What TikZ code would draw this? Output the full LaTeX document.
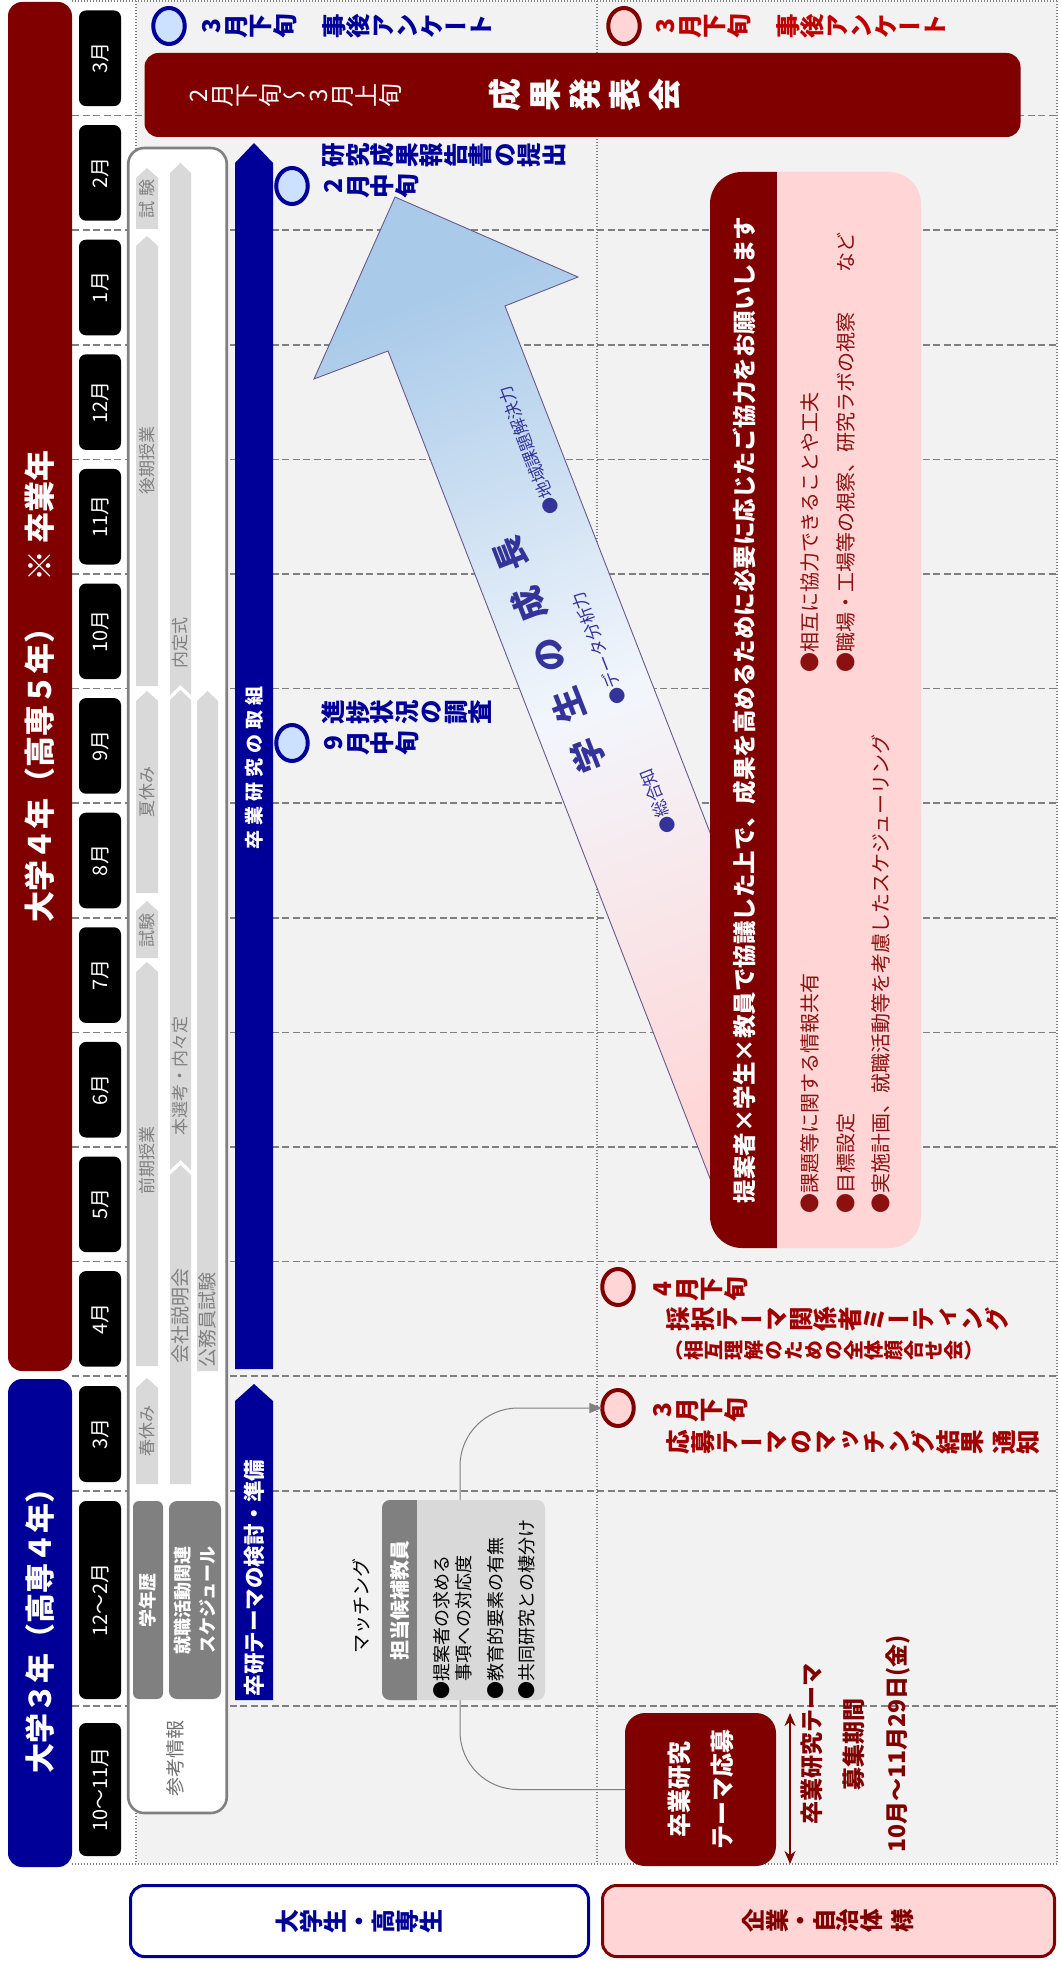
\documentclass[tikz,border=0pt]{standalone}
\usepackage{graphicx}
\usepackage{fontspec}
\setmainfont{Noto Sans CJK JP}
\newfontfamily\vjp{Noto Sans CJK JP}[RawFeature=+vert]
\usetikzlibrary{arrows.meta,shapes.geometric}
\definecolor{dred}{HTML}{800000}
\definecolor{navy}{HTML}{000099}
\definecolor{bggray}{HTML}{F2F2F2}
\definecolor{midgray}{HTML}{808080}
\definecolor{lgray}{HTML}{D9D9D9}
\definecolor{pinkf}{HTML}{FFD5D5}
\definecolor{lblue}{HTML}{CCE0FF}
\definecolor{grow}{HTML}{333399}
\definecolor{txtred}{HTML}{A00000}
\definecolor{brred}{HTML}{C00000}
\definecolor{ptxt}{HTML}{8B1010}
\definecolor{gtop}{HTML}{A9CAE9}
\definecolor{gmid}{HTML}{F2F6FC}
\definecolor{gbot}{HTML}{FFD6D6}
\definecolor{gline}{HTML}{695A8C}
\definecolor{reftxt}{HTML}{6E6E6E}
\newcommand{\fsz}[2]{\fontsize{#1pt}{#2pt}\selectfont}
% vertical (tategaki) text seen from the rotated page: each glyph turned 90 degrees
\newcommand{\vtchar}[1]{\rotatebox{90}{\makebox[1em][c]{\raisebox{0pt}[0.88em][0.12em]{#1}}}}
\let\vtend\relax
\def\vtloop#1{\ifx#1\vtend\else\vtchar{#1}\expandafter\vtloop\fi}
\newcommand{\vt}[1]{{\vjp\vtloop#1\vtend}}
\newcommand{\chev}[4]{\fill[lgray] (#1,#4) -- (#1,#3+10) -- ({(#1+#2)/2},#3) -- (#2,#3+10) -- (#2,#4) -- cycle;}
\newcommand{\chevn}[4]{\fill[lgray] (#1,#4) -- (#1,#3+10) -- ({(#1+#2)/2},#3) -- (#2,#3+10) -- (#2,#4) -- ({(#1+#2)/2},#4-10) -- cycle;}
\begin{document}
\begin{tikzpicture}[x=1pt,y=-1pt,
  every node/.style={inner sep=0pt,outer sep=0pt},
  dashln/.style={draw=midgray,line width=1.5pt,dash pattern=on 7pt off 3.5pt},
  dotln/.style={draw=midgray,line width=1.1pt,dash pattern=on 1.4pt off 1.6pt},
  monthbox/.style={fill=black,rounded corners=7pt,minimum height=42pt,rotate=90,text=white,font=\fsz{20}{24}},
  chevtxt/.style={rotate=90,text=midgray,font=\fsz{17}{20}},
  vlabel/.style={anchor=west,font=\fsz{24.5}{31}\bfseries},
  marker/.style={ellipse,line width=4pt,minimum width=31.5pt,minimum height=36pt},
  bmark/.style={marker,draw=navy,fill=lblue},
  rmark/.style={marker,draw=dred,fill=pinkf},
  conn/.style={draw=midgray,line width=1pt,rounded corners=58pt,-{Triangle[length=13pt,width=10pt]}}]
\useasboundingbox (0,0) rectangle (1060,1961);
% background and grid
\fill[bggray] (136,1) rectangle (1057,1864);
\foreach \yy in {115.6,230.2,344.8,459.4,574,688.6,803.2,917.8,1032.4,1147,1261.6,1376.2,1491,1706}
  \draw[dashln] (72,\yy) -- (1057,\yy);
\draw[dotln] (72,1) -- (1057,1);
\draw[dotln] (72,1864) -- (1057,1864);
\draw[dotln] (136,1) -- (136,1864);
\draw[dotln] (597,1) -- (597,1864);
\draw[dotln] (1057,1) -- (1057,1864);
% year bars
\node[fill=dred,rounded corners=14pt,minimum width=1369pt,minimum height=64pt,rotate=90,text=white,font=\fsz{31}{36}\bfseries] (yr4) at (40,686.5) {大学４年（高専５年）　※ 卒業年};
\node[fill=navy,rounded corners=14pt,minimum width=488pt,minimum height=64pt,rotate=90,text=white,font=\fsz{30}{36}\bfseries] (yr3) at (40,1623) {大学３年（高専４年）};
% months
\foreach \lbl [count=\i from 0] in {3月,2月,1月,12月,11月,10月,9月,8月,7月,6月,5月,4月}
  \node[monthbox,minimum width=95.6pt] (m\i) at (100,{58.3+114.6*\i}) {\lbl};
\node[monthbox,minimum width=96pt] (m12) at (100,1434) {3月};
\node[monthbox,minimum width=198pt] (m13) at (100,1600) {12～2月};
\node[monthbox,minimum width=133pt] (m14) at (100,1789.5) {10～11月};
% reference box
\node[draw=midgray,line width=2.6pt,fill=white,rounded corners=16pt,minimum width=98.5pt,minimum height=1665pt] (ref) at (177.5,980.5) {};
\chev{136}{158}{168}{229}
\chev{136}{158}{236}{686}
\chev{136}{158}{691}{893}
\chev{136}{158}{901}{958}
\chev{136}{158}{962}{1366}
\chev{136}{158}{1378}{1484}
\chevn{170}{191}{163}{695}
\chevn{170}{191}{690}{1170}
\chev{170}{191}{1165}{1484}
\chev{197}{218}{691}{1371}
\node[chevtxt] (k1) at (147,199) {試\hspace{5pt}験};
\node[chevtxt] (k2) at (147,460) {後期授業};
\node[chevtxt] (k3) at (147,792) {夏休み};
\node[chevtxt] (k4) at (147,930) {試験};
\node[chevtxt] (k5) at (147,1160) {前期授業};
\node[chevtxt] (k6) at (147,1431) {春休み};
\node[chevtxt,anchor=west] (k7) at (180.5,668) {内定式};
\node[chevtxt,anchor=west] (k8) at (180.5,1135) {本選考・内々定};
\node[chevtxt,anchor=west,font=\fsz{19}{22}] (k9) at (180.5,1363) {会社説明会};
\node[chevtxt,anchor=west,font=\fsz{19}{22}] (k10) at (207.5,1367) {公務員試験};
\node[fill=midgray,rounded corners=6pt,minimum width=30pt,minimum height=198pt] (gk) at (148,1600) {};
\node[rotate=90,text=white,font=\fsz{18}{22}\bfseries] (gkt) at (gk) {学年歴};
\node[fill=midgray,rounded corners=8pt,minimum width=52pt,minimum height=198pt] (sk) at (195,1600) {};
\node[rotate=90,text=white,align=center,font=\fsz{18}{24.5}\bfseries] (skt) at (sk) {就職活動関連\\スケジュール};
\node[rotate=90,text=reftxt,font=\fsz{19}{22}] (refl) at (175,1758) {参考情報};
% blue arrows
\fill[navy] (235,1369) -- (235,163) -- (254,143) -- (273,163) -- (273,1369) -- cycle;
\node[rotate=90,text=white,font=\fsz{19}{22}\bfseries] (sotsu) at (254,768) {卒\hspace{5pt}業\hspace{5pt}研\hspace{5pt}究\hspace{5pt}の\hspace{5pt}取\hspace{5pt}組};
\fill[navy] (235,1700) -- (235,1401) -- (254,1384) -- (273,1401) -- (273,1700) -- cycle;
\node[rotate=90,anchor=west,text=white,font=\fsz{21.5}{24}\bfseries] (junbi) at (254.5,1696) {卒研テーマの検討・準備};
% growth arrow
\shadedraw[draw=gline,line width=0.9pt,top color=gtop,bottom color=gbot,middle color=gmid,shading angle=21.3]
  (395,197) -- (578,277) -- (505,306) -- (843,1174) -- (726,1219.5) -- (388,351) -- (314,379) -- cycle;
\node[rotate=111.3,text=grow,font=\fsz{34}{40}\bfseries] (seicho) at (549,655) {学\hspace{20pt}生\hspace{20pt}の\hspace{20pt}成\hspace{20pt}長};
\node[rotate=111.3,anchor=west,text=grow,font=\fsz{17}{20}] (g1) at (670,833) {●総合知};
\node[rotate=111.3,anchor=west,text=grow,font=\fsz{17}{20}] (g2) at (620.3,703.4) {●データ分析力};
\node[rotate=111.3,anchor=west,text=grow,font=\fsz{17}{20}] (g3) at (553.3,513.9) {●地域課題解決力};
% pink box
\node[fill=pinkf,rounded corners=32pt,minimum width=211pt,minimum height=1076pt] (pbox) at (815.5,710) {};
\begin{scope}
\clip[rounded corners=32pt] (710,172) rectangle (921,1248);
\fill[dred] (700,160) rectangle (777,1260);
\end{scope}
\node[rotate=90,text=white,font=\fsz{23.5}{28}\bfseries] (ptitle) at (744,710) {提案者×学生×教員で協議した上で、成果を高めるために必要に応じたご協力をお願いします};
\node[rotate=90,anchor=west,align=left,text=ptxt,font=\fsz{20}{35.5}] (pl) at (845.5,1213) {●課題等に関する情報共有\\●目標設定\\●実施計画、就職活動等を考慮したスケジューリング};
\node[rotate=90,anchor=west,align=left,text=ptxt,font=\fsz{20}{35.5}] (pr) at (828,672) {●相互に協力できることや工夫\\●職場・工場等の視察、研究ラボの視察　　など};
% presentation bar
\node[fill=dred,rounded corners=14pt,minimum width=876pt,minimum height=84pt] (seika) at (582.5,95) {};
\node[anchor=west,text=white,font=\fsz{24}{28}] (seikad) at (186,96) {\vt{2月下旬～3月上旬}};
\node[text=white,font=\fsz{33}{40}\bfseries] (seikat) at (584.5,95) {\vt{成}\hspace{7pt}\vt{果}\hspace{7pt}\vt{発}\hspace{7pt}\vt{表}\hspace{7pt}\vt{会}};
% markers
\node[bmark] (c1) at (169,26) {};
\node[vlabel,text=navy] (t1) at (199,26) {\vt{3月下旬　事後アンケート}};
\node[rmark] (c2) at (624,26) {};
\node[vlabel,text=brred] (t2) at (653,26) {\vt{3月下旬　事後アンケート}};
\node[bmark] (c3) at (292,186) {};
\node[vlabel,text=navy,align=left] (t3) at (321,171) {\vt{研究成果報告書の提出}\\\vt{2月中旬}};
\node[bmark] (c4) at (292,743) {};
\node[vlabel,text=navy,align=left] (t4) at (321,728) {\vt{進捗状況の調査}\\\vt{9月中旬}};
\node[rmark] (c5) at (618,1287) {};
\node[vlabel,text=txtred] (t5a) at (650,1289) {\vt{4月下旬}};
\node[vlabel,text=txtred] (t5b) at (666,1319) {\vt{採択テーマ関係者ミーティング}};
\node[vlabel,text=txtred,font=\fsz{20}{26}\bfseries] (t5c) at (664,1350) {\vt{（相互理解のための全体顔合せ会）}};
\node[rmark] (c6) at (618,1408) {};
\node[vlabel,text=txtred] (t6a) at (650,1410) {\vt{3月下旬}};
\node[vlabel,text=txtred] (t6b) at (666,1442) {\vt{応募テーマのマッチング結果}\hspace{7pt}\vt{通知}};
% application and matching
\node[fill=dred,rounded corners=20pt,minimum width=151pt,minimum height=153pt] (apply) at (700.5,1789.5) {};
\draw[conn] (apply.west) -- (460,1789.5) -- (460,1408) -- (c6.west);
\node[fill=lgray,rounded corners=8pt,minimum width=163pt,minimum height=200pt] (tanto) at (463.5,1600) {};
\begin{scope}
\clip[rounded corners=8pt] (382,1500) rectangle (545,1700);
\fill[midgray] (380,1498) rectangle (417,1702);
\end{scope}
\node[rotate=90,text=white,font=\fsz{20}{24}\bfseries] (tantoh) at (399.5,1600) {担当候補教員};
\node[rotate=90,anchor=west,align=left,font=\fsz{18}{22.5}] (tantob) at (484,1699) {●提案者の求める\\　事項への対応度\\[9pt]●教育的要素の有無\\[9pt]●共同研究との棲分け};
\node[rotate=90,font=\fsz{19}{22}] (match) at (361.5,1606) {マッチング};
\node[rotate=90,align=center,text=white,font=\fsz{24}{43}\bfseries] (applyt) at (apply) {卒業研究\\テーマ応募};
\coordinate (pa) at (790,1713);
\coordinate (pb) at (790,1864);
\draw[dred,line width=2.5pt,{Stealth[length=13pt,width=11pt]}-{Stealth[length=13pt,width=11pt]}] (pa) -- (pb);
\node[rotate=90,align=center,text=dred,font=\fsz{23}{42.5}\bfseries] (period) at (855.5,1744) {卒業研究テーマ\\募集期間\\10月～11月29日(金)};
% bottom boxes
\node[draw=navy,line width=3pt,fill=white,rounded corners=14pt,minimum width=458pt,minimum height=71pt] (stu) at (359.5,1921) {};
\node[text=navy,font=\fsz{24}{28}\bfseries] (stut) at (stu) {\vt{大学生・高専生}};
\node[draw=dred,line width=3pt,fill=pinkf,rounded corners=14pt,minimum width=452pt,minimum height=71pt] (corp) at (828.5,1921) {};
\node[text=dred,font=\fsz{23.5}{28}\bfseries] (corpt) at (corp) {\vt{企業・自治体}\hspace{8pt}\vt{様}};
\end{tikzpicture}
\end{document}
